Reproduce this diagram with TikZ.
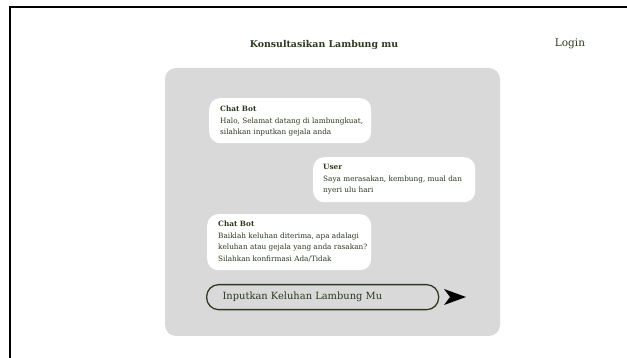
\documentclass[tikz,border=0pt]{standalone}
\usepackage{fontspec}
\setmainfont{DejaVu Serif}
\usetikzlibrary{positioning}
\definecolor{inkgreen}{HTML}{2B3A1E}
\definecolor{panelgray}{HTML}{D9D9D9}

\tikzset{
  bubble/.style={fill=white, rounded corners=11pt, anchor=north west, inner sep=0pt},
  chattext/.style={anchor=north west, align=left, inner sep=0pt, text=inkgreen,
    font=\fontsize{7.3}{11.5}\selectfont},
}

\begin{document}
\begin{tikzpicture}[x=1pt, y=-1pt]
\useasboundingbox (0,0) rectangle (627,358);
% frame
\draw[black, line width=2pt] (10,358) -- (10,7) -- (627,7);
% header
\node[text=inkgreen, font=\bfseries\fontsize{9.4}{11}\selectfont] (title) at (324,45) {Konsultasikan Lambung mu};
\node[text=inkgreen, font=\fontsize{10.5}{12}\selectfont] (login) at (570,44) {Login};
% chat panel
\fill[panelgray, rounded corners=11pt] (165,68) rectangle (500,336);
% bubbles
\node[bubble, minimum width=162pt, minimum height=45pt] (bot1) at (209,98) {};
\node[chattext, below right=8pt and 11pt of bot1.north west, anchor=north west] (bot1txt)
  {\textbf{Chat Bot}\\Halo, Selamat datang di lambungkuat,\\silahkan inputkan gejala anda};
\node[bubble, minimum width=162pt, minimum height=45pt] (user1) at (313,157) {};
\node[chattext, below right=7pt and 10pt of user1.north west, anchor=north west] (user1txt)
  {\textbf{User}\\Saya merasakan, kembung, mual dan\\nyeri ulu hari};
\node[bubble, minimum width=164pt, minimum height=56pt] (bot2) at (207,214) {};
\node[chattext, below right=7pt and 11pt of bot2.north west, anchor=north west] (bot2txt)
  {\textbf{Chat Bot}\\Baiklah keluhan diterima, apa adalagi\\keluhan atau gejala yang anda rasakan?\\Silahkan konfirmasi Ada/Tidak};
% input field
\node[draw=inkgreen, line width=1.3pt, rounded corners=12pt, minimum width=232pt,
  minimum height=25pt, anchor=north west, inner sep=0pt] (field) at (206,284) {};
\node[text=inkgreen, anchor=west, font=\fontsize{9.9}{11}\selectfont,
  right=13pt of field.west] (hint) {Inputkan Keluhan Lambung Mu};
% send icon
\fill[black] (444,289) -- (466,297) -- (444,305) -- (450,297) -- cycle;
\end{tikzpicture}
\end{document}
